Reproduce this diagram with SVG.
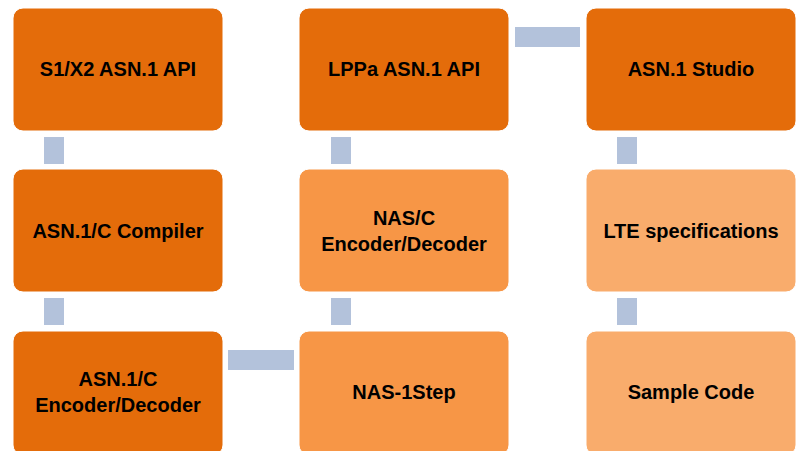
<svg xmlns="http://www.w3.org/2000/svg" width="801" height="451" viewBox="0 0 801 451">
<style>
.box{stroke:#ffffff;stroke-width:1}
.d{fill:#E46C0A}
.m{fill:#F79646}
.l{fill:#F9AC6C}
.c{fill:#B3C2DB}
text{font-family:"Liberation Sans",Arial,sans-serif;font-weight:bold;font-size:20px;fill:#000;text-anchor:middle}
</style>
<rect width="801" height="451" fill="#ffffff"/>
<g id="connectors">
<rect class="c" x="44" y="137" width="20" height="27"/>
<rect class="c" x="44" y="298" width="20" height="27"/>
<rect class="c" x="331" y="137" width="20" height="27"/>
<rect class="c" x="331" y="298" width="20" height="27"/>
<rect class="c" x="617" y="137" width="20" height="27"/>
<rect class="c" x="617" y="298" width="20" height="27"/>
<rect class="c" x="515" y="27" width="65" height="20"/>
<rect class="c" x="228" y="350" width="66" height="20"/>
</g>
<g id="n1"><rect class="box d" x="13" y="8" width="210" height="123" rx="10"/><text x="118" y="76">S1/X2 ASN.1 API</text></g>
<g id="n2"><rect class="box d" x="299" y="8" width="210" height="123" rx="10"/><text x="404" y="76">LPPa ASN.1 API</text></g>
<g id="n3"><rect class="box d" x="586" y="8" width="210" height="123" rx="10"/><text x="691" y="76">ASN.1 Studio</text></g>
<g id="n4"><rect class="box d" x="13" y="169" width="210" height="123" rx="10"/><text x="118" y="238">ASN.1/C Compiler</text></g>
<g id="n5"><rect class="box m" x="299" y="169" width="210" height="123" rx="10"/><text x="404" y="225">NAS/C</text><text x="404" y="251">Encoder/Decoder</text></g>
<g id="n6"><rect class="box l" x="586" y="169" width="210" height="123" rx="10"/><text x="691" y="238">LTE specifications</text></g>
<g id="n7"><rect class="box d" x="13" y="331" width="210" height="124" rx="10"/><text x="118" y="386">ASN.1/C</text><text x="118" y="412">Encoder/Decoder</text></g>
<g id="n8"><rect class="box m" x="299" y="331" width="210" height="124" rx="10"/><text x="404" y="399">NAS-1Step</text></g>
<g id="n9"><rect class="box l" x="586" y="331" width="210" height="124" rx="10"/><text x="691" y="399">Sample Code</text></g>
</svg>
